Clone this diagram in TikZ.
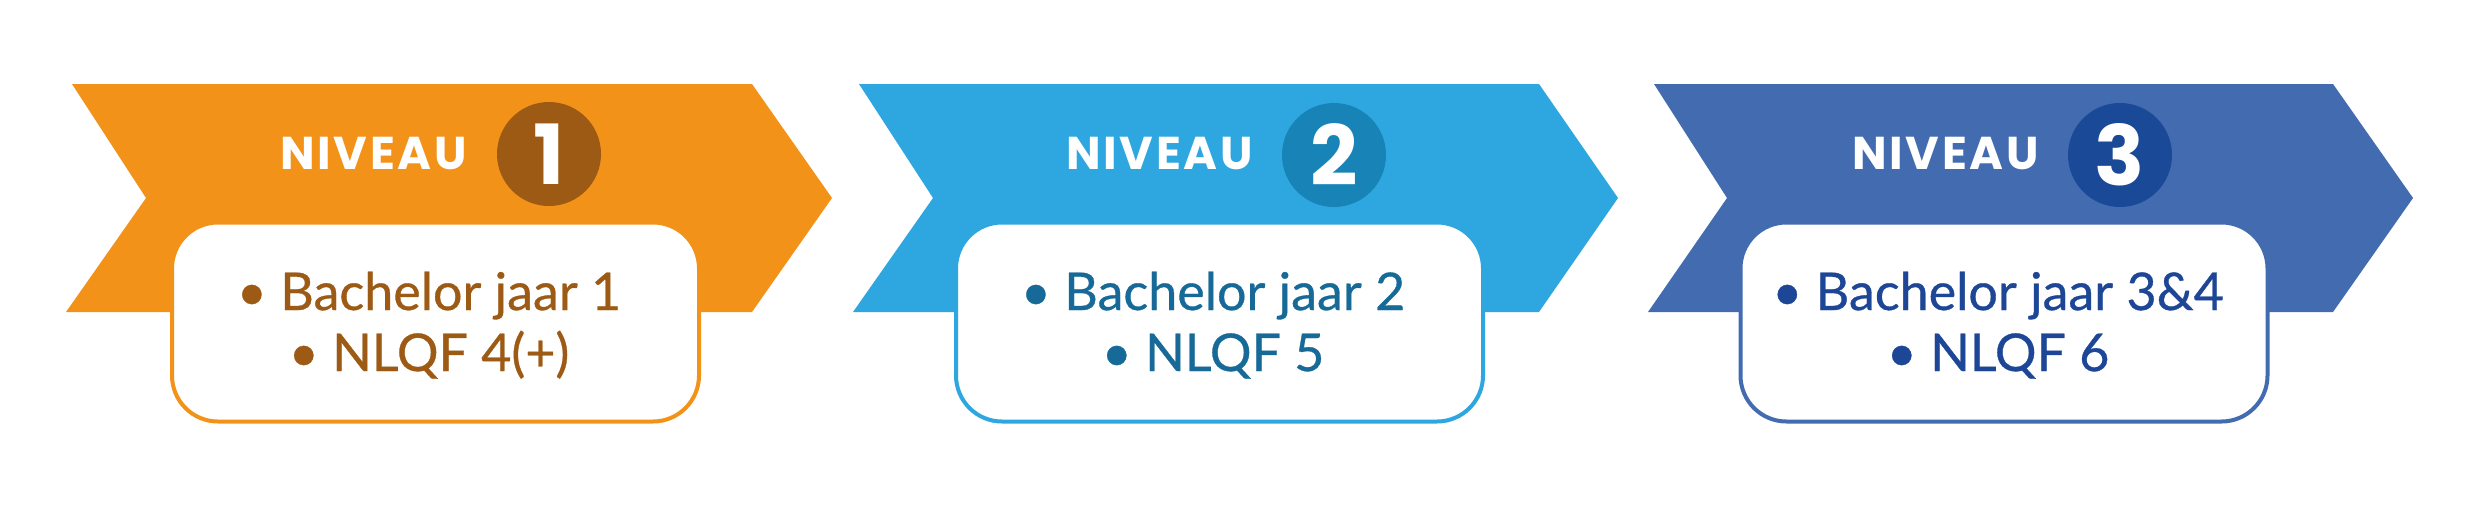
\documentclass[tikz,border=0pt]{standalone}
\usepackage{fontspec}
\setmainfont{Lato}
\newfontfamily\itemfont{Lato}[FakeBold=0.6]
\newfontfamily\nivfont{Poppins}[LetterSpace=6]
\newfontfamily\digfont{Poppins}
\definecolor{orA}{HTML}{F39219}
\definecolor{orB}{HTML}{9C5A15}
\definecolor{blA}{HTML}{2EA7E0}
\definecolor{blB}{HTML}{1883B6}
\definecolor{blC}{HTML}{176A98}
\definecolor{dbA}{HTML}{436BB0}
\definecolor{dbB}{HTML}{1A4998}
\definecolor{dbC}{HTML}{1D4696}
\tikzset{
  infobox/.style={draw, fill=white, line width=4pt, rounded corners=46pt,
    minimum width=527pt, minimum height=199pt, inner sep=0pt},
  numcirc/.style={circle, minimum size=104pt, inner sep=0pt, text=white,
    font=\digfont\bfseries\fontsize{83}{83}\selectfont},
  nivlabel/.style={anchor=base west, text=white, inner sep=0pt,
    font=\nivfont\bfseries\fontsize{46}{46}\selectfont},
  itemline/.style={anchor=base, inner sep=0pt, font=\itemfont\fontsize{52}{62}\selectfont}
}
\begin{document}
\begin{tikzpicture}[x=1pt,y=-1pt]
\useasboundingbox (0,0) rectangle (2481,512);
\fill[white] (0,0) rectangle (2481,512);
% chevrons
\fill[orA] (72,84) -- (752,84) -- (832,198) -- (752,312) -- (66,312) -- (146,198) -- cycle;
\fill[blA] (859,84) -- (1539,84) -- (1618,198) -- (1539,312) -- (853,312) -- (933,198) -- cycle;
\fill[dbA] (1654,84) -- (2333,84) -- (2413,198) -- (2333,312) -- (1648,312) -- (1727,198) -- cycle;
% level 1
\node[nivlabel] (n1) at (280,169) {NIVEAU};
\node[numcirc, fill=orB] (c1) at (549,154) {1};
\node[infobox, draw=orA] (b1) at (435.5,322) {};
\node[itemline, text=orB] (t1a) at (429,310) {• Bachelor jaar 1};
\node[itemline, text=orB] (t1b) at (429,371) {• NLQF 4(+)};
% level 2
\node[nivlabel] (n2) at (1066,169) {NIVEAU};
\node[numcirc, fill=blB] (c2) at (1334,155) {2};
\node[infobox, draw=blA] (b2) at (1219.5,322) {};
\node[itemline, text=blC] (t2a) at (1213,310) {• Bachelor jaar 2};
\node[itemline, text=blC] (t2b) at (1213,371) {• NLQF 5};
% level 3
\node[nivlabel] (n3) at (1852,169) {NIVEAU};
\node[numcirc, fill=dbB] (c3) at (2120,155) {3};
\node[infobox, draw=dbA] (b3) at (2004,322) {};
\node[itemline, text=dbC] (t3a) at (1998,310) {• Bachelor jaar 3\&4};
\node[itemline, text=dbC] (t3b) at (1998,371) {• NLQF 6};
\end{tikzpicture}
\end{document}
